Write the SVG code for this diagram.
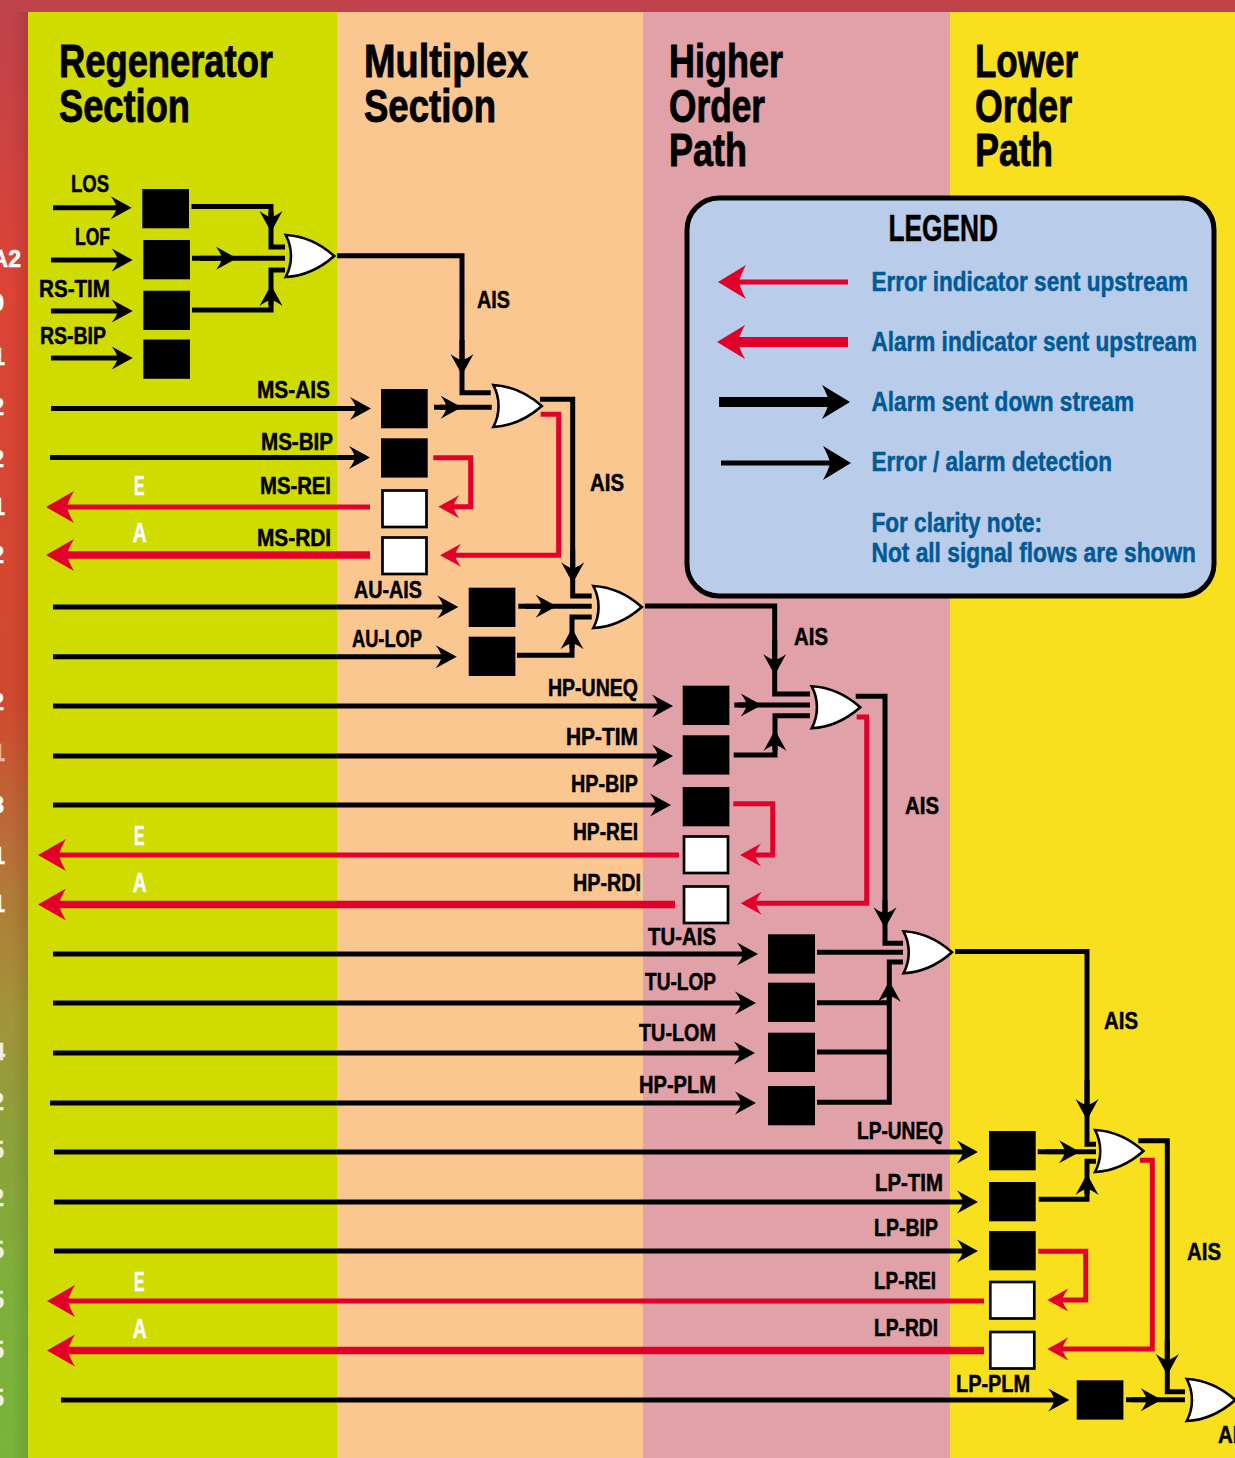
<svg xmlns="http://www.w3.org/2000/svg" width="1235" height="1458" viewBox="0 0 1235 1458">
<style>
text{font-family:"Liberation Sans Narrow","Liberation Sans",Arial,sans-serif;font-weight:700;fill:#000;stroke:#000;stroke-width:.5}
.l{font-size:23px}
.h{font-size:46px;stroke-width:.9}
.k{font-size:27.5px;fill:#005a96;stroke:#005a96}
.m{font-size:23px;fill:#fff;stroke:#fff;text-anchor:end}
.e{font-size:27px;fill:#fff;stroke:#fff}
.b{fill:#000}
.w{fill:#fff;stroke:#000;stroke-width:2.7}
.g{fill:#fff;stroke:#000;stroke-width:2.6;stroke-linejoin:miter}
path.c{fill:none;stroke:#000;stroke-width:5;stroke-linejoin:miter}
.r{fill:none;stroke:#e2002a;stroke-width:5}
.R{fill:none;stroke:#e2002a;stroke-width:7.3}
.a{marker-end:url(#ka)}
.ra{marker-end:url(#ra)}
.rb{marker-end:url(#rb)}
</style>
<defs>
<linearGradient id="edge" x1="0" y1="0" x2="0" y2="1">
<stop offset="0" stop-color="#bf424c"/>
<stop offset=".2" stop-color="#dc4436"/>
<stop offset=".48" stop-color="#d0492f"/>
<stop offset=".58" stop-color="#b86f38"/>
<stop offset=".69" stop-color="#a39338"/>
<stop offset=".79" stop-color="#8aa33a"/>
<stop offset=".89" stop-color="#7eb03b"/>
<stop offset="1" stop-color="#78b43b"/>
</linearGradient>
<linearGradient id="shade" x1="0" y1="0" x2="1" y2="0">
<stop offset=".4" stop-color="#000" stop-opacity="0"/>
<stop offset="1" stop-color="#000" stop-opacity=".1"/>
</linearGradient>
<marker id="ka" markerUnits="userSpaceOnUse" markerWidth="30" markerHeight="30" refX="8" refY="12" orient="auto" overflow="visible"><path d="M21 12 0 .5Q5 7 6 12 5 17 0 23.5Z" fill="#000"/></marker>
<marker id="ra" markerUnits="userSpaceOnUse" markerWidth="30" markerHeight="30" refX="8" refY="12" orient="auto" overflow="visible"><path d="M21 12 0 .5Q5 7 6 12 5 17 0 23.5Z" fill="#e2002a"/></marker>
<marker id="rb" markerUnits="userSpaceOnUse" markerWidth="40" markerHeight="40" refX="10" refY="16" orient="auto" overflow="visible"><path d="M28 16 0 0Q6 10 7 16 6 22 0 32Z" fill="#e2002a"/></marker>
<marker id="kb" markerUnits="userSpaceOnUse" markerWidth="40" markerHeight="40" refX="10" refY="17" orient="auto" overflow="visible"><path d="M28 17 0 0Q6 11 7 17 6 23 0 34Z" fill="#000"/></marker>
<marker id="rc" markerUnits="userSpaceOnUse" markerWidth="40" markerHeight="40" refX="10" refY="17" orient="auto" overflow="visible"><path d="M28 17 0 0Q6 11 7 17 6 23 0 34Z" fill="#e2002a"/></marker>
<path id="or" class="g" d="M0-21C20-20 35-12 48.5 0 35 12 20 20 0 21 7 8 7-8 0-21Z"/>
</defs>

<g id="background">
<rect width="1235" height="1458" fill="url(#edge)"/>
<rect y="12" width="28" height="1446" fill="url(#shade)"/>
<rect x="28" y="12" width="309" height="1446" fill="#d0dc00"/>
<rect x="337" y="12" width="306" height="1446" fill="#fac791"/>
<rect x="643" y="12" width="307" height="1446" fill="#e0a1a8"/>
<rect x="950" y="12" width="285" height="1446" fill="#f9e01e"/>
</g>

<g id="edge-labels">
<text class="m" x="21" y="267">A2</text>
<text class="m" x="4" y="311">0</text><text class="m" x="5" y="365">1</text><text class="m" x="4" y="415">2</text><text class="m" x="4" y="467">2</text><text class="m" x="5" y="515">1</text><text class="m" x="4" y="563">2</text><text class="m" x="4" y="710">2</text><text class="m" x="5" y="761" opacity=".6">1</text><text class="m" x="4" y="813">3</text><text class="m" x="5" y="864">1</text><text class="m" x="5" y="912">1</text><text class="m" x="5" y="1060" opacity=".85">4</text><text class="m" x="4" y="1110" opacity=".85">2</text><text class="m" x="4" y="1158" opacity=".85">5</text><text class="m" x="4" y="1206" opacity=".85">2</text><text class="m" x="4" y="1258" opacity=".85">5</text><text class="m" x="4" y="1308" opacity=".85">5</text><text class="m" x="4" y="1358" opacity=".85">5</text><text class="m" x="4" y="1406" opacity=".85">5</text>
</g>

<g id="headings">
<text class="h" x="59" y="77" textLength="214" lengthAdjust="spacingAndGlyphs">Regenerator</text>
<text class="h" x="59" y="122" textLength="131" lengthAdjust="spacingAndGlyphs">Section</text>
<text class="h" x="364" y="77" textLength="164" lengthAdjust="spacingAndGlyphs">Multiplex</text>
<text class="h" x="364" y="122" textLength="132" lengthAdjust="spacingAndGlyphs">Section</text>
<text class="h" x="669" y="77" textLength="114" lengthAdjust="spacingAndGlyphs">Higher</text>
<text class="h" x="669" y="122" textLength="96" lengthAdjust="spacingAndGlyphs">Order</text>
<text class="h" x="669" y="166" textLength="78" lengthAdjust="spacingAndGlyphs">Path</text>
<text class="h" x="975" y="77" textLength="103" lengthAdjust="spacingAndGlyphs">Lower</text>
<text class="h" x="975" y="122" textLength="97" lengthAdjust="spacingAndGlyphs">Order</text>
<text class="h" x="975" y="166" textLength="78" lengthAdjust="spacingAndGlyphs">Path</text>
</g>

<g id="legend">
<rect x="687" y="198" width="527" height="398" rx="32" fill="#b9cce9" stroke="#000" stroke-width="5"/>
<text x="888.5" y="241" font-size="36" textLength="109.5" lengthAdjust="spacingAndGlyphs">LEGEND</text>
<line x1="848" y1="282" x2="736" y2="282" stroke="#e2002a" stroke-width="5" marker-end="url(#rc)"/>
<line x1="848" y1="342" x2="735" y2="342" stroke="#e2002a" stroke-width="10" marker-end="url(#rc)"/>
<line x1="719" y1="402" x2="832" y2="402" stroke="#000" stroke-width="10" marker-end="url(#kb)"/>
<line x1="721" y1="463" x2="833" y2="463" stroke="#000" stroke-width="5" marker-end="url(#kb)"/>
<text class="k" x="871.5" y="291" textLength="316.5" lengthAdjust="spacingAndGlyphs">Error indicator sent upstream</text>
<text class="k" x="871.5" y="351" textLength="325.5" lengthAdjust="spacingAndGlyphs">Alarm indicator sent upstream</text>
<text class="k" x="871.5" y="411" textLength="262.5" lengthAdjust="spacingAndGlyphs">Alarm sent down stream</text>
<text class="k" x="871.5" y="471" textLength="240.5" lengthAdjust="spacingAndGlyphs">Error / alarm detection</text>
<text class="k" x="871.5" y="532" textLength="170.5" lengthAdjust="spacingAndGlyphs">For clarity note:</text>
<text class="k" x="871.5" y="562" textLength="324.5" lengthAdjust="spacingAndGlyphs">Not all signal flows are shown</text>
</g>

<g id="connectors">
<!-- regenerator section -->
<path class="c a" d="M53 207.7H118.7"/>
<path class="c a" d="M51 260H119.7"/>
<path class="c a" d="M51 311H119.7"/>
<path class="c a" d="M51 358H119.7"/>
<path class="c" d="M191.5 206.5H271V247H285"/>
<path class="c a" d="M271 212V219"/>
<path class="c" d="M192 258.3H285"/>
<path class="c a" d="M200 258.3H224"/>
<path class="c" d="M192 310H271V270H285"/>
<path class="c a" d="M271 305V298"/>
<path class="c" d="M337 255.7H462V392.7H490.7"/>
<path class="c a" d="M462 340V362"/>
<text class="l" x="477" y="308" textLength="33" lengthAdjust="spacingAndGlyphs">AIS</text>
<!-- multiplex section -->
<path class="c a" d="M51 408.5H358"/>
<path class="c a" d="M50 457.5H357"/>
<path class="r rb" d="M370 507H64"/>
<path class="R rb" d="M370 555H64"/>
<path class="c" d="M434 407.3H491.7"/>
<path class="c a" d="M440 407.3H448.7"/>
<path class="c" d="M540 399.3H572.7V596H591.7"/>
<path class="c a" d="M572.7 550V570.3"/>
<path class="r ra" d="M540.7 414.3H558.7V555.3H453"/>
<path class="r ra" d="M433.3 457.7H470.7V506.7H451.3"/>
<text class="l" x="590" y="491" textLength="34" lengthAdjust="spacingAndGlyphs">AIS</text>
<!-- au -->
<path class="c a" d="M53 607H445.3"/>
<path class="c a" d="M53 656.7H443.7"/>
<path class="c" d="M518.3 606.3H591.7"/>
<path class="c a" d="M525 606.3H543.7"/>
<path class="c" d="M517 655.3H572V617H591.7"/>
<path class="c a" d="M572 648V641.3"/>
<path class="c" d="M645 606H774.7V694H810"/>
<path class="c a" d="M774.7 640V662"/>
<text class="l" x="794" y="645" textLength="34" lengthAdjust="spacingAndGlyphs">AIS</text>
<!-- higher order -->
<path class="c a" d="M53 706H660"/>
<path class="c a" d="M53 756H660"/>
<path class="c a" d="M53 805H658"/>
<path class="r rb" d="M679 855H56"/>
<path class="R rb" d="M675 904.5H56"/>
<path class="c" d="M734.3 705H810"/>
<path class="c a" d="M738 705H748.7"/>
<path class="c" d="M733.7 755H775V715.7H810"/>
<path class="c a" d="M775 750V743"/>
<path class="c" d="M855.7 696.3H885V943.3H903"/>
<path class="c a" d="M885 900V915.3"/>
<path class="r ra" d="M856.7 717H866.7V903.3H753.7"/>
<path class="r ra" d="M733.3 803.7H772.7V855H753"/>
<text class="l" x="905" y="814" textLength="34" lengthAdjust="spacingAndGlyphs">AIS</text>
<!-- tu -->
<path class="c a" d="M53 954H745"/>
<path class="c a" d="M53 1003H743"/>
<path class="c a" d="M53 1053H742"/>
<path class="c a" d="M50 1103H743"/>
<path class="c" d="M817 952.3H903"/>
<path class="c" d="M817 1002.7H889.3M817 1052H889.3M817 1102.3H889.3V962H903"/>
<path class="c a" d="M889.3 1000V994"/>
<path class="c" d="M955 951.5H1087V1144.3H1096"/>
<path class="c a" d="M1087 1080V1107"/>
<text class="l" x="1104" y="1029" textLength="34" lengthAdjust="spacingAndGlyphs">AIS</text>
<!-- lower order -->
<path class="c a" d="M54 1152H965"/>
<path class="c a" d="M54 1202H965"/>
<path class="c a" d="M54 1251H965"/>
<path class="r rb" d="M984 1301H65"/>
<path class="R rb" d="M984 1350.5H65"/>
<path class="c" d="M1037.7 1151.7H1096"/>
<path class="c a" d="M1045 1151.7H1067"/>
<path class="c" d="M1038.7 1199.3H1087V1161.3H1096"/>
<path class="c a" d="M1087 1194V1187"/>
<path class="c" d="M1138.3 1140.7H1167.3V1391.7H1185"/>
<path class="c a" d="M1167.3 1340V1362"/>
<path class="r ra" d="M1140 1160.3H1152.3V1349H1060.3"/>
<path class="r ra" d="M1038.3 1251.3H1085.7V1300H1060.3"/>
<text class="l" x="1187" y="1260" textLength="34" lengthAdjust="spacingAndGlyphs">AIS</text>
<path class="c a" d="M61 1400H1056.3"/>
<path class="c" d="M1126 1399.7H1185"/>
<path class="c a" d="M1132 1399.7H1148.7"/>
<text class="l" x="1218" y="1443" textLength="34" lengthAdjust="spacingAndGlyphs">AIS</text>
</g>

<g id="los"><rect class="b" x="142.3" y="189" width="46.7" height="39.3"/><text class="l" x="71" y="192" textLength="38" lengthAdjust="spacingAndGlyphs">LOS</text></g>
<g id="lof"><rect class="b" x="143.3" y="240" width="46.7" height="39.3"/><text class="l" x="75" y="245" textLength="35" lengthAdjust="spacingAndGlyphs">LOF</text></g>
<g id="rs-tim"><rect class="b" x="143.3" y="290.7" width="46.7" height="39.3"/><text class="l" x="39" y="297" textLength="71" lengthAdjust="spacingAndGlyphs">RS-TIM</text></g>
<g id="rs-bip"><rect class="b" x="143.3" y="339.5" width="46.7" height="39.3"/><text class="l" x="40" y="344" textLength="66" lengthAdjust="spacingAndGlyphs">RS-BIP</text></g>
<g id="or-rs"><use href="#or" x="285.7" y="256"/></g>

<g id="ms-ais"><rect class="b" x="381" y="389" width="46.7" height="39.3"/><text class="l" x="257" y="398" textLength="73" lengthAdjust="spacingAndGlyphs">MS-AIS</text></g>
<g id="ms-bip"><rect class="b" x="381" y="438.3" width="46.7" height="39.3"/><text class="l" x="261" y="450" textLength="72" lengthAdjust="spacingAndGlyphs">MS-BIP</text></g>
<g id="ms-rei"><rect class="w" x="382.5" y="490.5" width="44" height="36.5"/><text class="l" x="260" y="494" textLength="71" lengthAdjust="spacingAndGlyphs">MS-REI</text><text class="e" x="134" y="495" textLength="10.5" lengthAdjust="spacingAndGlyphs">E</text></g>
<g id="ms-rdi"><rect class="w" x="382.5" y="537.5" width="44" height="36.5"/><text class="l" x="257" y="546" textLength="74" lengthAdjust="spacingAndGlyphs">MS-RDI</text><text class="e" x="132.7" y="541.7" textLength="14" lengthAdjust="spacingAndGlyphs">A</text></g>
<g id="or-ms"><use href="#or" x="493.3" y="406"/></g>

<g id="au-ais"><rect class="b" x="468.7" y="587.7" width="46.7" height="39.3"/><text class="l" x="354" y="598" textLength="68" lengthAdjust="spacingAndGlyphs">AU-AIS</text></g>
<g id="au-lop"><rect class="b" x="468.7" y="636.7" width="46.7" height="39.3"/><text class="l" x="352" y="647" textLength="70" lengthAdjust="spacingAndGlyphs">AU-LOP</text></g>
<g id="or-au"><use href="#or" x="593.3" y="607"/></g>

<g id="hp-uneq"><rect class="b" x="682.7" y="685.7" width="46.7" height="39.3"/><text class="l" x="548" y="696" textLength="90" lengthAdjust="spacingAndGlyphs">HP-UNEQ</text></g>
<g id="hp-tim"><rect class="b" x="682.7" y="735.3" width="46.7" height="39.3"/><text class="l" x="566" y="745" textLength="72" lengthAdjust="spacingAndGlyphs">HP-TIM</text></g>
<g id="hp-bip"><rect class="b" x="682.7" y="787" width="46.7" height="39.3"/><text class="l" x="571" y="792" textLength="67" lengthAdjust="spacingAndGlyphs">HP-BIP</text></g>
<g id="hp-rei"><rect class="w" x="684" y="836.5" width="44" height="36.5"/><text class="l" x="573" y="840" textLength="65" lengthAdjust="spacingAndGlyphs">HP-REI</text><text class="e" x="134" y="845" textLength="10.5" lengthAdjust="spacingAndGlyphs">E</text></g>
<g id="hp-rdi"><rect class="w" x="684" y="886.5" width="44" height="36.5"/><text class="l" x="573" y="891" textLength="68" lengthAdjust="spacingAndGlyphs">HP-RDI</text><text class="e" x="132.7" y="892" textLength="14" lengthAdjust="spacingAndGlyphs">A</text></g>
<g id="or-hp"><use href="#or" x="811.7" y="707.3"/></g>

<g id="tu-ais"><rect class="b" x="768" y="934.3" width="47" height="39.3"/><text class="l" x="648" y="945" textLength="68" lengthAdjust="spacingAndGlyphs">TU-AIS</text></g>
<g id="tu-lop"><rect class="b" x="768" y="982.7" width="47" height="39.3"/><text class="l" x="645" y="990" textLength="71" lengthAdjust="spacingAndGlyphs">TU-LOP</text></g>
<g id="tu-lom"><rect class="b" x="768" y="1032.7" width="47" height="39.3"/><text class="l" x="639" y="1041" textLength="77" lengthAdjust="spacingAndGlyphs">TU-LOM</text></g>
<g id="hp-plm"><rect class="b" x="768" y="1086" width="47" height="39.3"/><text class="l" x="639" y="1093" textLength="77" lengthAdjust="spacingAndGlyphs">HP-PLM</text></g>
<g id="or-tu"><use href="#or" x="903.5" y="952.3"/></g>

<g id="lp-uneq"><rect class="b" x="989" y="1131" width="46.7" height="39.3"/><text class="l" x="857" y="1139" textLength="86" lengthAdjust="spacingAndGlyphs">LP-UNEQ</text></g>
<g id="lp-tim"><rect class="b" x="989" y="1182" width="46.7" height="39.3"/><text class="l" x="875" y="1191" textLength="68" lengthAdjust="spacingAndGlyphs">LP-TIM</text></g>
<g id="lp-bip"><rect class="b" x="989" y="1231" width="46.7" height="39.3"/><text class="l" x="874" y="1236" textLength="64" lengthAdjust="spacingAndGlyphs">LP-BIP</text></g>
<g id="lp-rei"><rect class="w" x="990.3" y="1282" width="44" height="36.5"/><text class="l" x="874" y="1289" textLength="62" lengthAdjust="spacingAndGlyphs">LP-REI</text><text class="e" x="134" y="1291" textLength="10.5" lengthAdjust="spacingAndGlyphs">E</text></g>
<g id="lp-rdi"><rect class="w" x="990.3" y="1332" width="44" height="36.5"/><text class="l" x="874" y="1336" textLength="64" lengthAdjust="spacingAndGlyphs">LP-RDI</text><text class="e" x="132.7" y="1338" textLength="14" lengthAdjust="spacingAndGlyphs">A</text></g>
<g id="or-lp"><use href="#or" x="1095" y="1151"/></g>

<g id="lp-plm"><rect class="b" x="1076.7" y="1380.3" width="46.7" height="39.3"/><text class="l" x="956" y="1392" textLength="74" lengthAdjust="spacingAndGlyphs">LP-PLM</text></g>
<g id="or-plm"><use href="#or" x="1186.7" y="1400"/></g>
</svg>
